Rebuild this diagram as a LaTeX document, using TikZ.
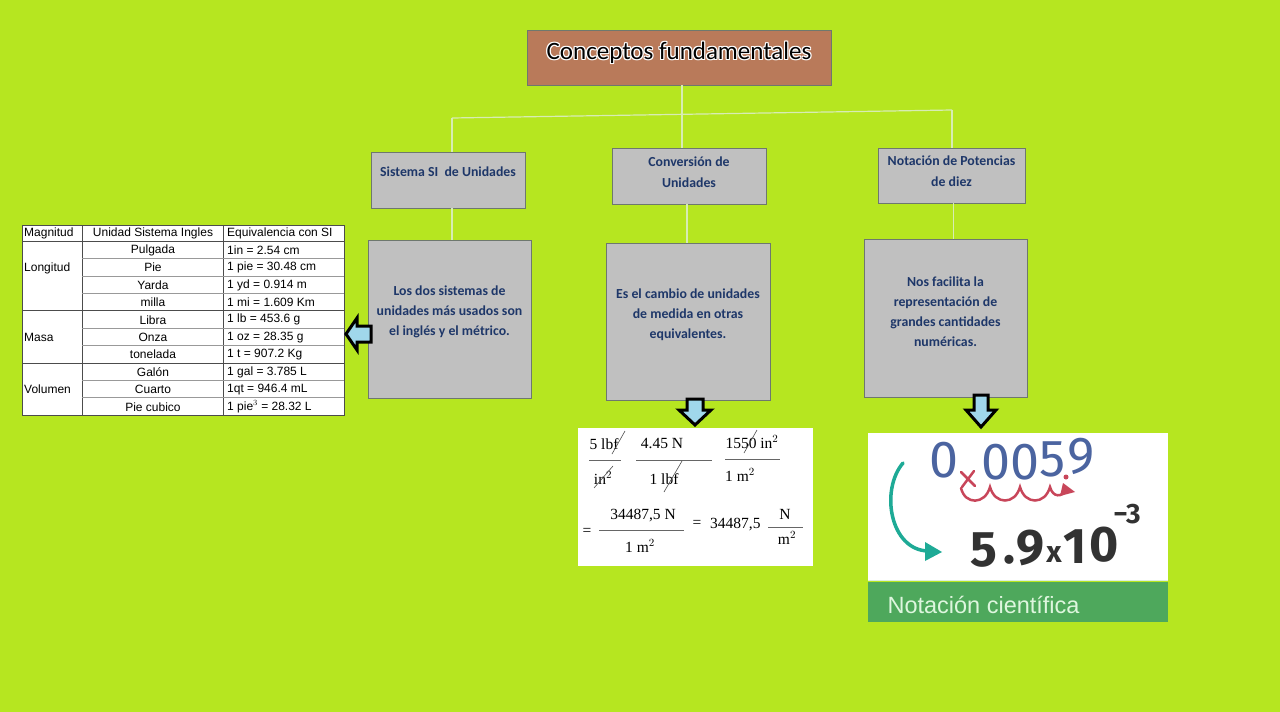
\documentclass[tikz,border=0pt]{standalone}
\usepackage{fontspec}
\setmainfont{Carlito}
\newfontfamily\tabfont{Liberation Sans}
\newfontfamily\tmsfont{Liberation Serif}
\newfontfamily\handfont{Fira Sans}
\newfontfamily\arialfont{Liberation Sans}
\usetikzlibrary{calc}
\definecolor{bgc}{RGB}{182,230,32}
\definecolor{brownc}{RGB}{185,122,90}
\definecolor{grayc}{RGB}{192,192,192}
\definecolor{grayb}{RGB}{110,120,110}
\definecolor{bluet}{RGB}{30,55,105}
\definecolor{linec}{RGB}{215,236,180}
\definecolor{arrowc}{RGB}{160,215,235}
\definecolor{greenband}{RGB}{78,168,92}
\definecolor{palegreen}{RGB}{222,246,222}
\definecolor{handblue}{RGB}{75,100,160}
\definecolor{handred}{RGB}{200,70,90}
\definecolor{handteal}{RGB}{30,170,150}
\definecolor{handblack}{RGB}{50,50,50}
\tikzset{
  conceptbox/.style={draw=grayb, line width=0.8pt, fill=grayc, inner sep=0pt},
  boxtext/.style={font=\fontsize{13.8}{21}\selectfont\bfseries, text=bluet, align=center},
  desctext/.style={font=\fontsize{13.8}{20}\selectfont\bfseries, text=bluet, align=center},
  conn/.style={draw=linec, line width=1.2pt},
  tabtxt/.style={font=\tabfont\fontsize{12}{13}\selectfont, inner sep=0pt},
  blockarrow/.style={draw=black, line width=3pt, fill=arrowc, line join=miter},
  tms/.style={font=\tmsfont\fontsize{15.5}{17}\selectfont, inner sep=0pt},
  slashl/.style={draw=black!70, line width=0.6pt},
  handdig/.style={font=\handfont\fontsize{52}{54}\selectfont, text=handblue, inner sep=0pt},
  handbig/.style={font=\handfont\fontsize{50}{52}\selectfont\bfseries, text=handblack, inner sep=0pt}
}
\begin{document}
\begin{tikzpicture}[x=1pt,y=-1pt]
\fill[bgc] (0,0) rectangle (1280,712);
\useasboundingbox (0,0) rectangle (1280,712);

% title
\node[draw=grayb, line width=0.8pt, fill=brownc, minimum width=304pt, minimum height=55pt] (title) at (679,57.5) {};
\foreach \dx/\dy [count=\i] in {1/0,-1/0,0/1,0/-1,1/1,-1/-1,1/-1,-1/1}
  \node[font=\fontsize{25}{27}\selectfont, text=white] (tw\i) at ($(679,53)+(\dx,\dy)$) {Conceptos fundamentales};
\node[font=\fontsize{25}{27}\selectfont, text=black] (ttext) at (679,53) {Conceptos fundamentales};

% level boxes
\node[conceptbox, minimum width=154pt, minimum height=56pt] (b1) at (448,180) {};
\node[conceptbox, minimum width=154pt, minimum height=56pt] (b2) at (689,176) {};
\node[conceptbox, minimum width=147pt, minimum height=55pt] (b3) at (951.5,175.5) {};
\node[boxtext] (b1t) at (448,172) {Sistema SI\ \ de Unidades};
\node[boxtext] (b2t) at (689,172) {Conversión de\\Unidades};
\node[boxtext] (b3t) at (951.5,171) {Notación de Potencias\\de diez};

% description boxes
\node[conceptbox, minimum width=163pt, minimum height=158pt] (d1) at (449.5,319) {};
\node[conceptbox, minimum width=164pt, minimum height=157pt] (d2) at (688,321.5) {};
\node[conceptbox, minimum width=163pt, minimum height=158pt] (d3) at (945.5,318) {};
\node[desctext] (d1t) at (449.5,312) {Los dos sistemas de\\unidades más usados son\\el inglés y el métrico.};
\node[desctext] (d2t) at (688,315) {Es el cambio de unidades\\de medida en otras\\equivalentes.};
\node[desctext] (d3t) at (945.5,311.5) {Nos facilita la\\representación de\\grandes cantidades\\numéricas.};

% connectors
\coordinate (jn) at (682,114);
\coordinate (hl) at (452,118);
\coordinate (hr) at (952,110);
\draw[conn] (title.south -| jn) -- (jn);
\draw[conn] (hl) -- (hr);
\draw[conn] (hl) -- (hl |- b1.north);
\draw[conn] (jn) -- (jn |- b2.north);
\draw[conn] (hr) -- (hr |- b3.north);
\draw[conn] (b1.south -| hl) -- (hl |- d1.north);
\draw[conn] ($(b2.south)+(-2,0)$) -- ($(b2.south |- d2.north)+(-2,0)$);
\draw[conn] ($(b3.south)+(2,0)$) -- ($(b3.south |- d3.north)+(2,0)$);

% table
\fill[white] (22,225) rectangle (344,415);
\node[tabtxt, anchor=west] (h1) at (24,233) {Magnitud};
\node[tabtxt] (h2) at (153,233) {Unidad Sistema Ingles};
\node[tabtxt, anchor=west] (h3) at (227,233) {Equivalencia con SI};
\foreach \u/\e [count=\i] in {Pulgada/1in = 2.54 cm, Pie/1 pie = 30.48 cm, Yarda/1 yd = 0.914 m, milla/1 mi = 1.609 Km, Libra/1 lb = 453.6 g, Onza/1 oz = 28.35 g, tonelada/1 t = 907.2 Kg, Galón/1 gal = 3.785 L, Cuarto/1qt = 946.4 mL, Pie cubico/{1 pie$^3$ = 28.32 L}}{
  \node[tabtxt] (u\i) at (153,{241.5+17.4*(\i-0.5)}) {\u};
  \node[tabtxt, anchor=west] (e\i) at (227,{241.5+17.4*(\i-0.5)}) {\e};
}
\node[tabtxt, anchor=west] (g1) at (24,268) {Longitud};
\node[tabtxt, anchor=west] (g2) at (24,337) {Masa};
\node[tabtxt, anchor=west] (g3) at (24,389) {Volumen};
\draw[black!70, line width=0.6pt] (22,225) rectangle (344,415);
\draw[black!70, line width=0.6pt] (82,225) -- (82,415) (223,225) -- (223,415);
\draw[black!70, line width=0.6pt] (22,241) -- (344,241);
\foreach \i in {1,...,9}{
  \draw[black!40, line width=0.5pt] (82,{241+17.4*\i}) -- (344,{241+17.4*\i});
}
\draw[black!70, line width=0.6pt] (22,{241+17.4*4}) -- (344,{241+17.4*4});
\draw[black!70, line width=0.6pt] (22,{241+17.4*7}) -- (344,{241+17.4*7});

% block arrows
\draw[blockarrow] (346,334) -- (357,318) -- (357,326) -- (371,326) -- (371,342) -- (357,342) -- (357,350) -- cycle;
\draw[blockarrow] (695,425) -- (679,410) -- (687,410) -- (687,399) -- (703,399) -- (703,410) -- (711,410) -- cycle;
\draw[blockarrow] (981,427) -- (966,410) -- (974,410) -- (974,395) -- (988,395) -- (988,410) -- (996,410) -- cycle;

% formula box
\node[fill=white, minimum width=235pt, minimum height=138pt, inner sep=0pt] (fbox) at (695.5,497) {};
\node[tms] (f1n) at (604,444) {5 lbf};
\node[tms] (f1d) at (603,478) {in$^2$};
\node[tms] (f2n) at (662,444) {4.45 N};
\node[tms] (f2d) at (664,479) {1 lbf};
\node[tms] (f3n) at (752,442) {1550 in$^2$};
\node[tms] (f3d) at (740,475) {1 m$^2$};
\draw[black!60, line width=0.6pt] (589,460) -- (621,460) (636,460) -- (712,460) (725,459) -- (780,459);
\draw[slashl] (612,454) -- (625,431) (594,488) -- (613,466) (664,492) -- (682,461) (744,453) -- (757,430);
\node[tms] (eq1) at (587,532) {=};
\node[tms] (f4n) at (643,516) {34487,5 N};
\node[tms] (f4d) at (640,546) {1 m$^2$};
\draw[black!60, line width=0.6pt] (599,530) -- (684,530);
\node[tms] (eq2) at (697,524) {=};
\node[tms, anchor=west] (val) at (710,525) {34487,5};
\node[tms] (f5n) at (785,514) {N};
\node[tms] (f5d) at (787,538) {m$^2$};
\draw[black!60, line width=0.6pt] (768,527) -- (803,527);

% scientific notation picture
\node[fill=white, minimum width=300pt, minimum height=147pt, inner sep=0pt] (sbox) at (1018,506.5) {};
\node[fill=greenband, minimum width=300pt, minimum height=40pt, inner sep=0pt] (sband) at (1018,602) {};
\draw[white!80!greenband, line width=1pt] (868,580) -- (1168,580);
\node[font=\arialfont\fontsize{23.5}{25}\selectfont, text=palegreen, anchor=west] (stext) at (884,605) {Notación científica};
\node[handdig] (n0) at (944,460) {0};
\node[handdig] (n1) at (996,462) {0};
\node[handdig] (n2) at (1025,462) {0};
\node[handdig] (n3) at (1053,459) {5};
\node[handdig] (n4) at (1081,456) {9};
\draw[handred, line width=2.5pt, line cap=round] (961,472) -- (975,486) (974,471) -- (962,487);
\fill[handred] (1066,477) circle (2.5pt);
\draw[handred, line width=2.5pt, line cap=round] (961,488) .. controls (965,505) and (985,505) .. (990,487) .. controls (995,505) and (1015,505) .. (1020,487) .. controls (1025,505) and (1045,505) .. (1050,487) .. controls (1053,498) and (1062,497) .. (1066,490);
\fill[handred] (1063,483) -- (1075,492) -- (1060,496) -- cycle;
\draw[handteal, line width=3.5pt, line cap=round] (903,463) .. controls (880,490) and (890,550) .. (928,551);
\fill[handteal] (925,542) -- (942,552) -- (925,561) -- cycle;
\node[handbig] (s1) at (984,550) {5};
\node[handbig] (s2) at (1009,560) {.};
\node[handbig] (s3) at (1030,548) {9};
\node[font=\handfont\fontsize{30}{32}\selectfont\bfseries, text=handblack, inner sep=0pt] (s4) at (1054,555) {x};
\node[handbig] (s5) at (1075,547) {1};
\node[handbig] (s6) at (1104,545) {0};
\node[font=\handfont\fontsize{28}{30}\selectfont\bfseries, text=handblack, inner sep=0pt] (exp) at (1127,514) {−3};
\end{tikzpicture}
\end{document}
